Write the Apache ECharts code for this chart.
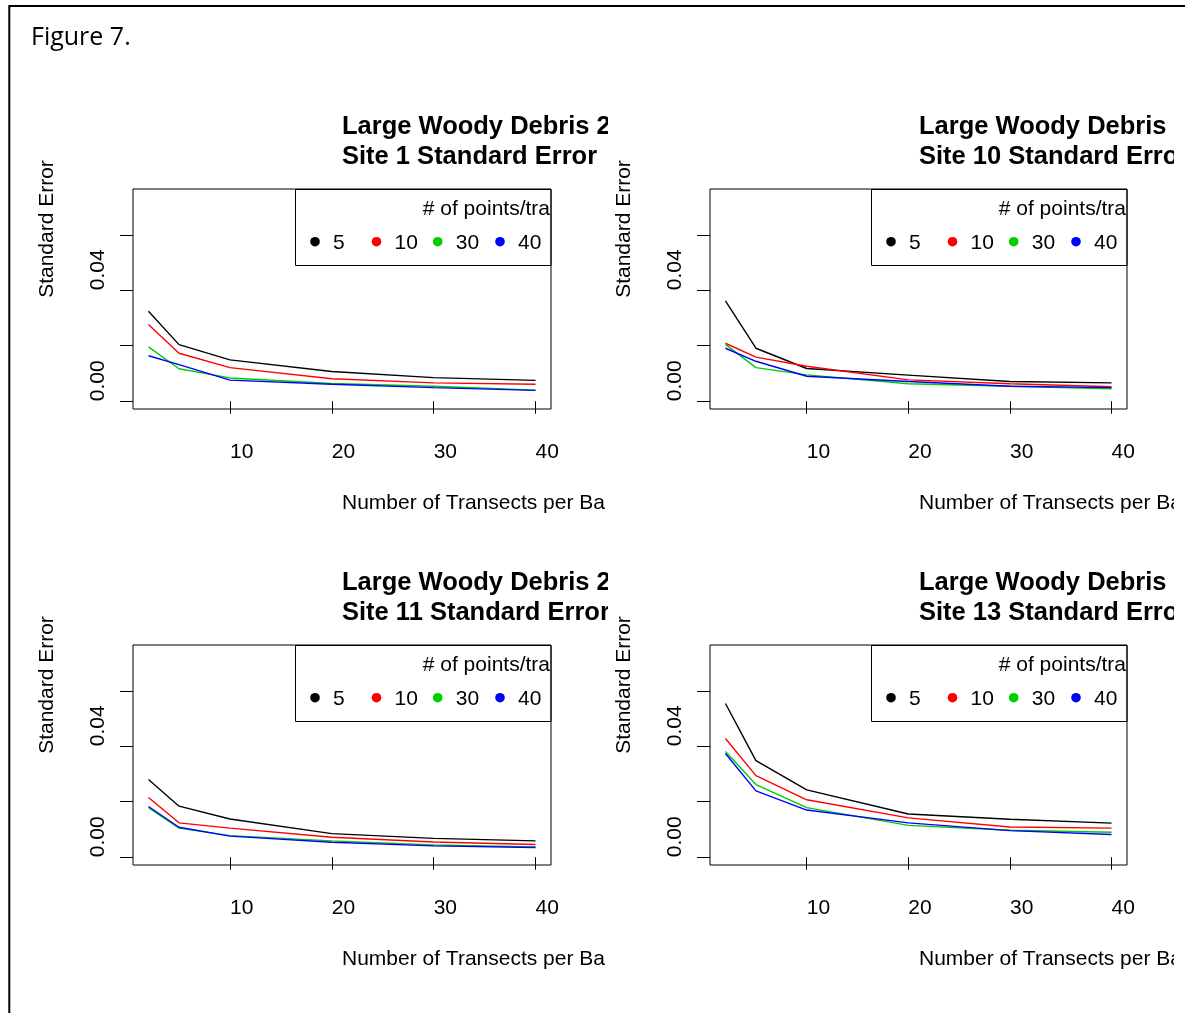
<!DOCTYPE html>
<html><head><meta charset="utf-8">
<script src="https://cdn.jsdelivr.net/npm/echarts@6/dist/echarts.min.js"></script>
<style>html,body{margin:0;padding:0;background:#fff}#c{width:1185px;height:1013px}</style>
</head><body><div id="c"></div>
<script>
// ---------- data ----------
const transects = [2, 5, 10, 20, 30, 40];
const groupNames = ['5', '10', '30', '40'];
const groupColors = ['#000000', '#FF0000', '#00CD00', '#0000FF'];
const xTicks = [10, 20, 30, 40];
const yTicks = [0, 0.02, 0.04, 0.06];
const yTickLabels = [0, 0.04];
const legendTitle = '# of points/tra';
const xAxisTitle = 'Number of Transects per Ba';
const yAxisTitle = 'Standard Error';

const site1_5  = [0.0324, 0.0204, 0.0149, 0.0107, 0.0085, 0.0075];
const site1_10 = [0.0277, 0.0173, 0.0121, 0.0081, 0.0066, 0.0061];
const site1_30 = [0.0196, 0.0117, 0.0084, 0.0064, 0.0054, 0.0040];
const site1_40 = [0.0164, 0.0132, 0.0076, 0.0061, 0.0049, 0.0039];

const site10_5  = [0.0362, 0.0191, 0.0118, 0.0094, 0.0071, 0.0066];
const site10_10 = [0.0209, 0.0159, 0.0126, 0.0077, 0.0063, 0.0052];
const site10_30 = [0.0205, 0.0121, 0.0095, 0.0063, 0.0054, 0.0045];
const site10_40 = [0.0191, 0.0144, 0.0090, 0.0071, 0.0054, 0.0049];

const site11_5  = [0.0280, 0.0184, 0.0138, 0.0085, 0.0068, 0.0059];
const site11_10 = [0.0215, 0.0124, 0.0105, 0.0072, 0.0055, 0.0046];
const site11_30 = [0.0179, 0.0105, 0.0078, 0.0059, 0.0044, 0.0037];
const site11_40 = [0.0183, 0.0108, 0.0076, 0.0054, 0.0041, 0.0035];

const site13_5  = [0.0554, 0.0348, 0.0243, 0.0156, 0.0137, 0.0123];
const site13_10 = [0.0428, 0.0294, 0.0207, 0.0142, 0.0109, 0.0105];
const site13_30 = [0.0381, 0.0262, 0.0179, 0.0115, 0.0097, 0.0090];
const site13_40 = [0.0374, 0.0239, 0.0170, 0.0124, 0.0096, 0.0082];

const titleLine1 = ['Large Woody Debris 2', 'Large Woody Debris', 'Large Woody Debris 2', 'Large Woody Debris'];
const titleLine2 = ['Site 1 Standard Error', 'Site 10 Standard Erro', 'Site 11 Standard Error', 'Site 13 Standard Erro'];
const panelSeries = [
  [site1_5, site1_10, site1_30, site1_40],
  [site10_5, site10_10, site10_30, site10_40],
  [site11_5, site11_10, site11_30, site11_40],
  [site13_5, site13_10, site13_30, site13_40]
];

// ---------- layout ----------
const FF = "'Liberation Sans', Arial, Helvetica, sans-serif";
const boxes = [
  {l: 133, t: 189, w: 418, h: 220},
  {l: 710, t: 189, w: 417, h: 220},
  {l: 133, t: 645, w: 418, h: 220},
  {l: 710, t: 645, w: 417, h: 220}
];

const grids = [], xAxes = [], yAxes = [], series = [], graphics = [];

boxes.forEach((b, i) => {
  grids.push({left: b.l, top: b.t, width: b.w, height: b.h, show: true,
    borderColor: '#000', borderWidth: 1, backgroundColor: 'transparent',
    containLabel: false, outerBoundsMode: 'none'});
  xAxes.push({type: 'value', gridIndex: i, min: 0.48, max: 41.52,
    axisLine: {show: false}, splitLine: {show: false},
    axisTick: {show: true, customValues: xTicks, length: 12.5, lineStyle: {color: '#000', width: 1}},
    axisLabel: {customValues: xTicks, align: 'left', margin: 33, fontSize: 21, color: '#000', fontFamily: FF}});
  yAxes.push({type: 'value', gridIndex: i, min: -0.0028, max: 0.0765,
    axisLine: {show: false}, splitLine: {show: false},
    axisTick: {show: true, customValues: yTicks, length: 13, lineStyle: {color: '#000', width: 1}},
    axisLabel: {customValues: yTickLabels, rotate: 90, align: 'left', margin: 24, fontSize: 21, color: '#000',
      fontFamily: FF, formatter: v => Number(v).toFixed(2)}});
  panelSeries[i].forEach((vals, k) => {
    series.push({type: 'line', name: groupNames[k], xAxisIndex: i, yAxisIndex: i,
      data: transects.map((x, j) => [x, vals[j]]),
      showSymbol: false, symbol: 'none', silent: true, z: 2 + k,
      lineStyle: {color: groupColors[k], width: 1.4}, itemStyle: {color: groupColors[k]}});
  });

  const right = b.l + b.w;
  const isRight = i % 2 === 1;
  const textX = isRight ? 919 : 342;
  const dy = i >= 2 ? 456 : 0;
  // legend box
  graphics.push({type: 'rect', z: 40, shape: {x: right - 255.5, y: b.t + 0.5, width: 255.5, height: 76},
    style: {fill: 'transparent', stroke: '#000', lineWidth: 1}});
  graphics.push({type: 'text', z: 41, x: right - 1, y: b.t + 20,
    style: {text: legendTitle, align: 'right', verticalAlign: 'middle', font: '21px ' + FF, fill: '#000'}});
  const dotOffsets = [236, 174.5, 113.3, 51];
  groupNames.forEach((g, k) => {
    const cx = right - dotOffsets[k];
    graphics.push({type: 'circle', z: 41, shape: {cx: cx, cy: b.t + 52.7, r: 4.8}, style: {fill: groupColors[k]}});
    graphics.push({type: 'text', z: 41, x: cx + 18, y: b.t + 54,
      style: {text: g, align: 'left', verticalAlign: 'middle', font: '21px ' + FF, fill: '#000'}});
  });
  // titles
  graphics.push({type: 'text', z: 50, x: textX, y: 126.5 + dy,
    style: {text: titleLine1[i], align: 'left', verticalAlign: 'middle', font: 'bold 25.5px ' + FF, fill: '#000'}});
  graphics.push({type: 'text', z: 50, x: textX, y: 156.5 + dy,
    style: {text: titleLine2[i], align: 'left', verticalAlign: 'middle', font: 'bold 25.5px ' + FF, fill: '#000'}});
  // x axis title
  graphics.push({type: 'text', z: 50, x: textX, y: 503 + dy,
    style: {text: xAxisTitle, align: 'left', verticalAlign: 'middle', font: '21px ' + FF, fill: '#000'}});
  // y axis title
  graphics.push({type: 'text', z: 70, x: isRight ? 624 : 47, y: 229 + dy, rotation: Math.PI / 2,
    style: {text: yAxisTitle, align: 'center', verticalAlign: 'middle', font: '21px ' + FF, fill: '#000'}});
});

// clipping masks for the cut-off panel texts
[[95, 80], [486, 36], [551, 80], [942, 36]].forEach(r => {
  graphics.push({type: 'rect', z: 60, shape: {x: 608, y: r[0], width: 33, height: r[1]}, style: {fill: '#fff'}});
  graphics.push({type: 'rect', z: 60, shape: {x: 1174, y: r[0], width: 20, height: r[1]}, style: {fill: '#fff'}});
});

// page frame and figure caption
graphics.push({type: 'polyline', z: 80, shape: {points: [[9.3, 1020], [9.3, 6], [1195, 6]]},
  style: {stroke: '#000', lineWidth: 2, fill: null}});
graphics.push({type: 'text', z: 80, x: 31, y: 37.5,
  style: {text: 'Figure 7.', align: 'left', verticalAlign: 'middle', font: "25px 'Open Sans', Carlito, sans-serif", fill: '#000'}});

const chart = echarts.init(document.getElementById('c'), null, {renderer: 'canvas'});
chart.setOption({
  animation: false,
  backgroundColor: '#fff',
  grid: grids,
  xAxis: xAxes,
  yAxis: yAxes,
  series: series,
  graphic: graphics
});
</script>
</body></html>
